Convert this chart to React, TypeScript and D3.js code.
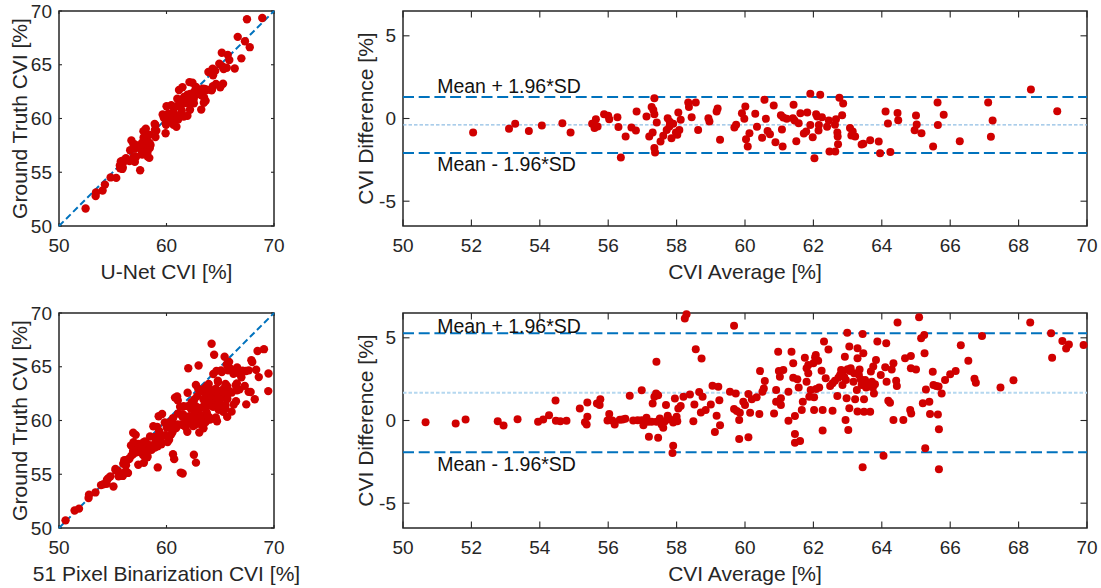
import React from 'react';
import * as d3 from 'd3';

// [CVI average, CVI difference (GT - U-Net)] per eye
const unetAgreement: [number, number][] = [
  [52.05, -0.85], [53.1, -0.62], [53.28, -0.32], [53.68, -0.75], [54.06, -0.42], [54.66, -0.28], [54.9, -0.85], [55.53, -0.32],
  [55.6, -0.58], [55.64, -0.04], [55.69, -0.48], [55.88, 0.26], [56.0, 0.16], [56.03, -0.04], [56.27, 0.08], [56.3, -0.52],
  [56.37, -2.36], [56.51, -1.09], [56.68, -0.54], [56.81, -0.73], [56.83, 0.42], [57.12, 0.12], [57.2, -1.09], [57.27, 0.69],
  [57.3, -0.85], [57.32, 0.52], [57.35, 1.23], [57.35, 0.26], [57.35, -1.79], [57.37, -2.06], [57.42, -0.24], [57.53, -1.39],
  [57.61, -1.05], [57.71, -0.69], [57.74, 0.02], [57.79, -0.48], [57.8, -0.2], [57.85, -1.19], [57.9, -0.32], [57.98, -0.85],
  [58.02, -0.99], [58.05, 0.36], [58.08, -0.69], [58.12, -0.08], [58.34, 0.97], [58.36, 0.69], [58.44, 0.08], [58.56, 0.97],
  [58.63, -0.69], [58.93, 0.02], [58.96, -0.18], [59.17, 0.42], [59.2, 0.6], [59.27, -1.29], [59.69, -0.54], [59.74, -0.38],
  [59.91, 0.32], [59.98, -0.02], [60.01, 0.73], [60.03, -1.25], [60.08, -1.69], [60.13, -0.89], [60.3, 0.28], [60.35, -0.5],
  [60.5, -1.17], [60.57, 1.13], [60.61, -0.02], [60.66, -0.75], [60.73, -0.95], [60.84, 0.79], [60.89, -1.43], [61.05, 0.2],
  [61.08, -0.67], [61.1, -1.69], [61.12, 0.06], [61.22, -0.02], [61.4, 0.02], [61.42, 0.83], [61.45, -0.12], [61.5, -1.37],
  [61.57, -0.28], [61.62, 0.32], [61.72, -0.91], [61.79, -0.79], [61.82, 0.36], [61.91, 1.49], [61.91, -0.4], [61.98, -1.13],
  [62.03, -2.4], [62.08, 0.26], [62.11, 0.12], [62.15, -0.73], [62.16, -0.4], [62.2, 1.43], [62.25, 0.08], [62.4, -0.5],
  [62.45, -0.12], [62.47, -2.0], [62.63, -0.38], [62.64, -2.0], [62.66, -0.04], [62.7, -0.85], [62.71, -1.09], [62.72, -1.55],
  [62.76, 1.25], [62.84, 0.2], [62.87, 0.91], [63.07, -0.58], [63.11, -1.03], [63.15, -0.79], [63.22, -1.09], [63.41, -1.57],
  [63.46, -1.53], [63.66, -1.31], [63.91, -1.39], [63.95, -2.1], [64.11, 0.42], [64.18, -0.3], [64.25, -2.02], [64.46, 0.34],
  [64.48, -0.1], [64.96, -0.71], [65.0, 0.18], [65.02, -0.36], [65.16, -0.89], [65.5, -1.69], [65.63, 0.97], [65.64, -0.4],
  [65.81, 0.22], [66.28, -1.37], [67.11, 0.97], [67.19, -1.11], [67.24, -0.12], [68.36, 1.75], [69.13, 0.44],
];

// [CVI average, CVI difference (binarization - GT)] per eye
const binAgreement: [number, number][] = [
  [50.66, -0.1], [51.54, -0.18], [51.83, 0.06], [52.77, -0.04], [52.94, -0.3], [53.35, 0.08], [53.95, -0.08], [54.1, 0.06],
  [54.27, 0.32], [54.46, 1.21], [54.47, -0.02], [54.6, -0.04], [54.78, -0.02], [55.17, 0.73], [55.32, -0.1], [55.37, -0.24],
  [55.39, 0.22], [55.39, 1.09], [55.67, 1.03], [55.75, 0.93], [55.77, 1.29], [55.98, 0.0], [56.03, 0.4], [56.12, 0.0],
  [56.19, -0.24], [56.34, 0.04], [56.42, 0.06], [56.5, 0.1], [56.63, 1.49], [56.73, 0.0], [56.86, 0.02], [56.98, 1.83],
  [56.98, 0.02], [57.03, -0.28], [57.12, 0.16], [57.17, -0.08], [57.19, -0.99], [57.27, -0.08], [57.3, 1.03], [57.35, 1.43],
  [57.4, 1.63], [57.41, 3.55], [57.41, -0.08], [57.46, -1.05], [57.46, 1.53], [57.51, 0.12], [57.56, -0.24], [57.61, -0.44],
  [57.66, -0.04], [57.69, 0.93], [57.74, 0.28], [57.8, 0.08], [57.88, -1.96], [57.9, -1.53], [57.9, -0.12], [57.95, 1.33],
  [58.0, 0.22], [58.02, -0.04], [58.05, 0.73], [58.12, 0.87], [58.2, 1.43], [58.24, 6.17], [58.29, 6.43], [58.39, 1.57],
  [58.49, -0.04], [58.52, 0.97], [58.56, 4.31], [58.66, 1.73], [58.71, 0.48], [58.73, 3.75], [58.76, 1.43], [58.85, 0.63],
  [59.0, 0.97], [59.05, 2.1], [59.12, -0.69], [59.17, 0.28], [59.22, 2.04], [59.25, 1.23], [59.27, -0.28], [59.41, 6.66],
  [59.56, 1.74], [59.73, 1.64], [59.68, 5.73], [59.68, 0.7], [59.76, 0.57], [59.85, 0.47], [59.83, 0.03], [59.83, -1.12],
  [59.95, 1.14], [60.0, 0.94], [60.1, 1.6], [60.1, -1.02], [60.15, 0.47], [60.2, 1.28], [60.34, 1.4], [60.42, 0.39],
  [60.44, 2.99], [60.51, 1.74], [60.55, 1.94], [60.58, 2.39], [60.85, 0.43], [60.91, 1.14], [60.91, 1.84], [60.97, 4.16],
  [60.99, 2.99], [61.02, 2.65], [61.05, 1.34], [61.05, 0.94], [61.12, 3.05], [61.27, 1.74], [61.27, -0.01], [61.36, 4.16],
  [61.41, 3.46], [61.41, 2.59], [61.46, 0.27], [61.46, -0.82], [61.46, -1.34], [61.53, 2.49], [61.57, 2.0], [61.61, -1.24],
  [61.66, 0.64], [61.69, 1.14], [61.75, 3.8], [61.8, 3.16], [61.8, 2.35], [61.85, 2.85], [61.85, 3.36], [61.88, 1.44],
  [61.92, 1.84], [62.0, 3.46], [62.02, 0.64], [62.02, 1.4], [62.05, 3.82], [62.07, 3.96], [62.08, 1.9], [62.14, 3.62],
  [62.17, 2.0], [62.24, 3.01], [62.27, 0.64], [62.27, -0.61], [62.31, 4.77], [62.36, 2.55], [62.44, 4.3], [62.49, 2.09],
  [62.56, 2.25], [62.56, 0.59], [62.63, 2.41], [62.7, 1.48], [62.73, 2.59], [62.78, 2.75], [62.81, 3.06], [62.85, 2.15],
  [62.85, 2.9], [62.9, 2.65], [62.92, 3.86], [62.94, 0.03], [62.95, 2.45], [62.97, 1.34], [62.99, 5.31], [63.0, 3.1],
  [63.02, -0.57], [63.05, 4.47], [63.05, 0.74], [63.07, 2.99], [63.09, 3.16], [63.17, 2.35], [63.19, 2.85], [63.22, 1.28],
  [63.27, 1.84], [63.29, 4.37], [63.29, 3.76], [63.29, 0.55], [63.33, 2.75], [63.35, 3.09], [63.38, 2.49], [63.41, 2.15],
  [63.44, 5.23], [63.46, 4.06], [63.48, 1.28], [63.48, 0.53], [63.44, -2.83], [63.51, 2.45], [63.54, 2.0], [63.58, 2.29],
  [63.64, 2.05], [63.66, 0.53], [63.68, 2.96], [63.71, 2.35], [63.74, 2.0], [63.75, 3.26], [63.77, 1.64], [63.8, 2.19],
  [63.83, 3.66], [63.87, 4.77], [63.97, 2.75], [64.05, -2.13], [64.1, 3.22], [64.13, 4.67], [64.14, 2.35], [64.19, 1.2],
  [64.24, 1.08], [64.29, 3.09], [64.34, 3.46], [64.34, 0.03], [64.42, 2.41], [64.44, 2.09], [64.46, 5.92], [64.63, 0.03],
  [64.68, 3.76], [64.83, 0.63], [64.85, 3.9], [64.86, 0.43], [64.85, 3.16], [65.0, 3.09], [65.09, 6.24], [65.15, 4.97],
  [65.2, 1.04], [65.24, 5.17], [65.25, 4.06], [65.27, -1.68], [65.29, 1.88], [65.39, 1.14], [65.41, 0.39], [65.49, 2.95],
  [65.51, 2.15], [65.59, 2.09], [65.64, 0.37], [65.66, 2.05], [65.67, -0.53], [65.67, -2.95], [65.75, 1.64], [65.85, 2.45],
  [66.0, 2.79], [66.1, 6.73], [66.16, 2.99], [66.31, 4.55], [66.53, 3.62], [66.71, 2.53], [66.75, 2.29], [66.93, 5.11],
  [67.47, 2.0], [67.85, 2.43], [68.34, 5.93], [68.95, 5.27], [68.98, 3.8], [69.28, 4.81], [69.39, 4.36], [69.47, 4.6],
  [69.9, 4.56],
];

// mean difference and limits of agreement (mean +/- 1.96*SD)
const unetStats = { mean: -0.39, upper: 1.3, lower: -2.08 };
const binStats = { mean: 1.68, upper: 5.28, lower: -1.92 };

const cviTicks = [50, 60, 70];
const gtTicks = [50, 55, 60, 65, 70];
const avgTicks = [50, 52, 54, 56, 58, 60, 62, 64, 66, 68, 70];
const diffTicks = [-5, 0, 5];

const FONT = '"Liberation Sans", Arial, Helvetica, sans-serif';
const INK = '#262626';
const RED = '#d00000';
const BLUE = '#0072bd';

const PLOT_H = 215;
const LEFT_X = 59;
const LEFT_W = 215;
const RIGHT_X = 403;
const RIGHT_W = 684;

type Scale = d3.ScaleLinear<number, number>;

function Box({ x, y, xTicks, yTicks, tickLen, xLabel, yLabel, yLabelOffset }: {
  x: Scale; y: Scale; xTicks: number[]; yTicks: number[]; tickLen: number;
  xLabel: string; yLabel: string; yLabelOffset: number;
}) {
  const [x0, x1] = x.range();
  const [y1, y0] = y.range();
  return (
    <g fontFamily={FONT} fill={INK}>
      <rect x={x0} y={y0} width={x1 - x0} height={y1 - y0} fill="none" stroke={INK} strokeWidth={1.5} />
      {xTicks.map((t) => (
        <g key={'x' + t}>
          <line x1={x(t)} x2={x(t)} y1={y1} y2={y1 - tickLen} stroke={INK} strokeWidth={1.1} />
          <line x1={x(t)} x2={x(t)} y1={y0} y2={y0 + tickLen} stroke={INK} strokeWidth={1.1} />
          <text x={x(t)} y={y1 + 26} textAnchor="middle" fontSize={19}>{String(t)}</text>
        </g>
      ))}
      {yTicks.map((t) => (
        <g key={'y' + t}>
          <line x1={x0} x2={x0 + tickLen} y1={y(t)} y2={y(t)} stroke={INK} strokeWidth={1.1} />
          <line x1={x1} x2={x1 - tickLen} y1={y(t)} y2={y(t)} stroke={INK} strokeWidth={1.1} />
          <text x={x0 - 7} y={y(t)} dy="0.35em" textAnchor="end" fontSize={19}>{String(t)}</text>
        </g>
      ))}
      <text x={(x0 + x1) / 2} y={y1 + 53} textAnchor="middle" fontSize={21}>{xLabel}</text>
      <text
        transform={`translate(${x0 - yLabelOffset},${(y0 + y1) / 2}) rotate(-90)`}
        textAnchor="middle"
        fontSize={21}
      >
        {yLabel}
      </text>
    </g>
  );
}

function ScatterPanel({ top, pts, xLabel }: { top: number; pts: [number, number][]; xLabel: string }) {
  const x = d3.scaleLinear().domain([50, 70]).range([LEFT_X, LEFT_X + LEFT_W]);
  const y = d3.scaleLinear().domain([50, 70]).range([top + PLOT_H, top]);
  const diag = d3.line<number>().x((v) => x(v)).y((v) => y(v));
  const inside = pts.filter(([a, b]) => a >= 50 && a <= 70 && b >= 50 && b <= 70);
  return (
    <g>
      <Box x={x} y={y} xTicks={cviTicks} yTicks={gtTicks} tickLen={3}
        xLabel={xLabel} yLabel="Ground Truth CVI [%]" yLabelOffset={32.5} />
      <path d={diag([50, 70]) || ''} stroke={BLUE} strokeWidth={2} strokeDasharray="6.5,3.5" fill="none" />
      {inside.map(([a, b], i) => (
        <circle key={i} cx={x(a)} cy={y(b)} r={4.2} fill={RED} />
      ))}
    </g>
  );
}

function AgreementPanel({ top, data, stats, upperTextY, lowerTextY, meanStyle }: {
  top: number; data: [number, number][]; stats: { mean: number; upper: number; lower: number };
  upperTextY: number; lowerTextY: number; meanStyle: { stroke: string; width: number };
}) {
  const x = d3.scaleLinear().domain([50, 70]).range([RIGHT_X, RIGHT_X + RIGHT_W]);
  const y = d3.scaleLinear().domain([-6.5, 6.5]).range([top + PLOT_H, top]);
  const inside = data.filter(([a, d]) => a >= 50 && a <= 70 && d >= -6.5 && d <= 6.5);
  const hline = (v: number) => d3.line<number>().x((t) => x(t)).y(() => y(v))([50, 70]) || '';
  return (
    <g>
      <Box x={x} y={y} xTicks={avgTicks} yTicks={diffTicks} tickLen={6.5}
        xLabel="CVI Average [%]" yLabel="CVI Difference [%]" yLabelOffset={30.5} />
      <path d={hline(stats.upper)} stroke={BLUE} strokeWidth={2} strokeDasharray="11,4.7" fill="none" />
      <path d={hline(stats.lower)} stroke={BLUE} strokeWidth={2} strokeDasharray="11,4.7" fill="none" />
      <path d={hline(stats.mean)} stroke={meanStyle.stroke} strokeWidth={meanStyle.width} strokeDasharray="3.5,2" fill="none" />
      <text x={x(51)} y={y(upperTextY)} fontFamily={FONT} fontSize={19.5} fill="#111">Mean + 1.96*SD</text>
      <text x={x(51)} y={y(lowerTextY)} fontFamily={FONT} fontSize={19.5} fill="#111">Mean - 1.96*SD</text>
      {inside.map(([a, d], i) => (
        <circle key={i} cx={x(a)} cy={y(d)} r={4} fill={RED} />
      ))}
    </g>
  );
}

export default function App() {
  // scatter axes: x = method under test, y = ground truth
  const unetPairs = unetAgreement.map(([a, d]) => [a - d / 2, a + d / 2] as [number, number]);
  const binPairs = binAgreement.map(([a, d]) => [a + d / 2, a - d / 2] as [number, number]);
  return (
    <svg width={1101} height={588} style={{ position: 'absolute', left: 0, top: 0, background: '#fff' }}>
      <rect width={1101} height={588} fill="#fff" />
      <ScatterPanel top={11} pts={unetPairs} xLabel="U-Net CVI [%]" />
      <AgreementPanel top={11} data={unetAgreement} stats={unetStats}
        upperTextY={1.54} lowerTextY={-3.17} meanStyle={{ stroke: '#8fbde4', width: 1.2 }} />
      <ScatterPanel top={313} pts={binPairs} xLabel="51 Pixel Binarization CVI [%]" />
      <AgreementPanel top={313} data={binAgreement} stats={binStats}
        upperTextY={5.31} lowerTextY={-3.03} meanStyle={{ stroke: '#b5d8f0', width: 2 }} />
    </svg>
  );
}
